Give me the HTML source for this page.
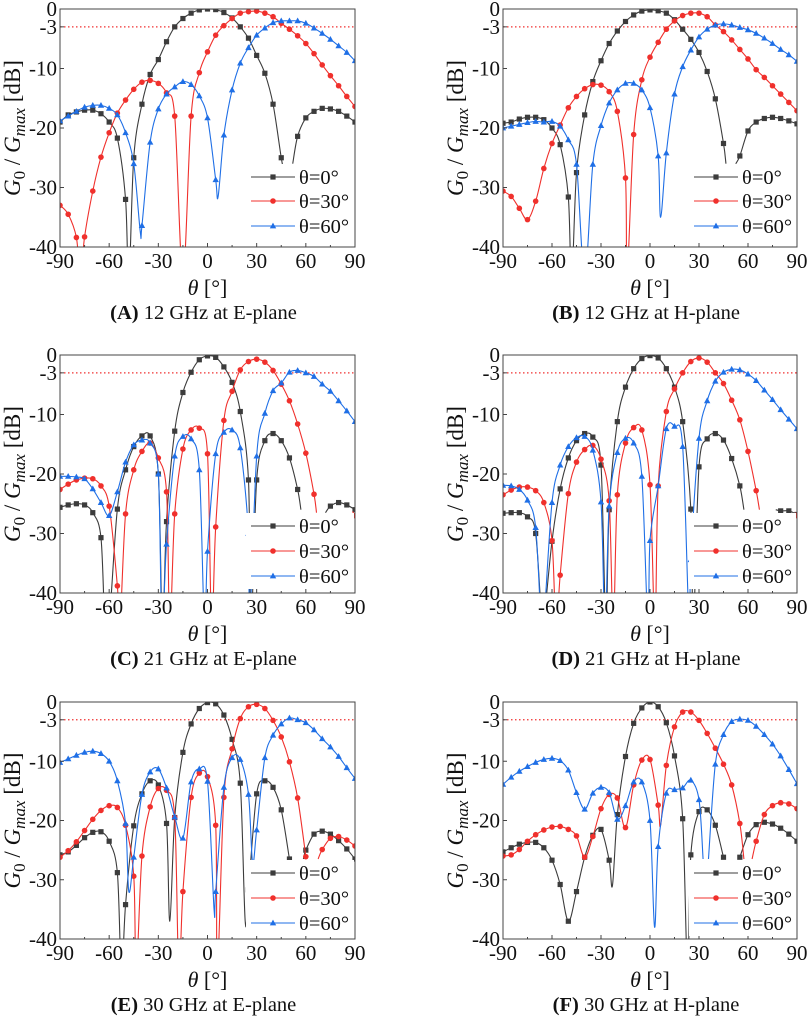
<!DOCTYPE html>
<html><head><meta charset="utf-8">
<style>
html,body{margin:0;padding:0;background:#fff;}
svg{display:block;font-family:"Liberation Serif",serif;}
</style></head>
<body>
<svg id="fig" width="809" height="1017" viewBox="0 0 809 1017" xmlns="http://www.w3.org/2000/svg"></svg>
<script>
const xTicks = [-90,-60,-30,0,30,60,90];
const yTicks = [0,-3,-10,-20,-30,-40];
const gridTheta = [-90,-85,-80,-75,-70,-65,-60,-55,-50,-45,-40,-35,-30,-25,-20,-15,-10,-5,0,5,10,15,20,25,30,35,40,45,50,55,60,65,70,75,80,85,90];
const seriesNames = ["θ=0°","θ=30°","θ=60°"];
const captions = ["12 GHz at E-plane","12 GHz at H-plane","21 GHz at E-plane","21 GHz at H-plane","30 GHz at E-plane","30 GHz at H-plane"];
const panelLetters = ["A","B","C","D","E","F"];

const aBlack = [-19,-17.8,-17.3,-17,-17,-17.6,-19,-21.7,-32,-25,-16,-11,-8.5,-5.5,-3,-1.6,-0.7,-0.15,0,-0.1,-0.6,-1.5,-3,-4.9,-7.8,-10.8,-16,-25,null,-21.4,-18.3,-17.2,-16.7,-16.8,-17.2,-18,-19];
const aBlackExtra = [[-48,-46],[46.5,-27],[52,-26]];
const aRed = [-33,-34.5,-38.4,-38.3,-30.6,-24.9,-20.8,-17.5,-15.3,-13.5,-12.3,-12,-12.5,-14.1,-18,-45,-18,-10.7,-7.2,-4.4,-2.8,-1.6,-0.7,-0.45,-0.35,-0.7,-1.3,-2.4,-3.4,-4.5,-5.8,-7.5,-9.4,-11.2,-12.9,-14.7,-16.4];
const aRedExtra = [[-77.5,-45]];
const aBlue = [-18.8,-18,-17.2,-16.5,-16.2,-16.2,-16.7,-17.8,-20.8,-26,-36.4,-22.4,-16.8,-14.3,-13.1,-12.2,-12.7,-14.6,-18.3,-28.7,-21.2,-13.6,-9.1,-6.5,-4.4,-3.2,-2.3,-2,-2,-2,-2.4,-3.2,-4.1,-5.1,-6.2,-7.3,-8.7];
const aBlueExtra = [[-41,-37.5],[6.5,-31.5]];

const bBlack = [-19.2,-19,-18.5,-18.2,-18.2,-18.6,-20,-22.8,-31.6,-27.5,-17.8,-12.2,-8.7,-5.8,-3.7,-2.1,-1,-0.35,-0.15,-0.3,-0.7,-1.8,-3.4,-5.1,-7.3,-10.5,-15.1,-22.6,null,-24.7,-20.5,-19,-18.4,-18.2,-18.4,-18.8,-19.3];
const bBlackExtra = [[-48,-46],[46.5,-26],[52.5,-26]];
const bRed = [-30.6,-31.5,-33.5,-35.4,-32.3,-26.8,-22.6,-19.5,-16.6,-14.7,-13.4,-12.7,-12.8,-13.9,-17.2,-28.4,-21.1,-11.9,-8.1,-5.6,-3.4,-2,-1.1,-0.7,-0.7,-1.3,-2.7,-3.8,-5.2,-6.8,-8.4,-10.2,-11.5,-12.9,-14.3,-15.7,-17.1];
const bRedExtra = [[-14,-45]];
const bBlue = [-20,-19.7,-19.4,-19.1,-18.9,-19,-18.9,-19.7,-22,-26.1,-45,-26.1,-19.6,-15.8,-13.6,-12.5,-12.5,-13.6,-16.6,-24.7,-24.2,-14.3,-9.7,-6.9,-4.7,-3.4,-2.7,-2.5,-2.7,-3.1,-3.5,-4.1,-4.9,-5.8,-6.8,-7.7,-8.8];
const bBlueExtra = [[6.5,-35]];

const cBlack = [-25.6,-25.2,-25,-25.2,-26.5,-30.7,-45,-25.9,-19.3,-15.4,-13.6,-13.6,-20,-28,-12.8,-6.3,-2.9,-0.8,-0.15,-0.4,-2,-4.6,-9.5,-21,-21,-14.4,-13.2,-14.4,-17.3,-22.6,null,null,null,-25.4,-24.8,-25.2,-26];
const cBlackExtra = [[-62.5,-46],[-27.5,-46],[26.5,-46],[57,-26],[72,-26.5]];
const cRed = [-22.6,-21.7,-21,-20.7,-20.8,-22,-25.4,-38.8,-26.7,-19.3,-16.2,-14.8,-17.3,-23,-26.7,-15.8,-12.6,-12.3,-16.6,-28.9,-11,-6.1,-2.5,-1.1,-0.7,-1.2,-2.6,-4.9,-7.7,-11.6,-16.5,-23.4,null,null,null,null,-27];
const cRedExtra = [[-53.5,-46],[-23,-46],[2.5,-46],[66.5,-26.5],[88.5,-26.3]];
const cBlue = [-20.4,-20.4,-20.5,-20.8,-22.5,-24.8,-27,-23,-18,-15.1,-14.3,-14.8,-20,-31.8,-17,-13.7,-14.1,-19.3,-33,-16.6,-13,-12.6,-15.6,-30,-17,-9.8,-6,-4.7,-2.9,-2.6,-3,-3.6,-4.9,-6.1,-7.7,-9.4,-11.2];
const cBlueExtra = [[-27.8,-46],[-1.8,-46],[25.6,-46]];

const dBlack = [-26.6,-26.5,-26.5,-27.2,-30,-45,-31.3,-22.5,-17.3,-14.4,-13.2,-13.8,-18.5,-26,-11.2,-5.4,-2.3,-0.6,-0.1,-0.5,-2.3,-5.4,-11.2,-25.9,-18.8,-14.1,-13.2,-14.3,-17.4,-22,null,null,null,null,-26.2,-26.2,-26.8];
const dBlackExtra = [[-66,-46],[-27,-46],[26.5,-46],[57.5,-26],[77,-26]];
const dRed = [-23.5,-22.7,-22.2,-22.2,-22.8,-24.8,-31.2,-37,-23.3,-18,-15.9,-15.2,-17.5,-24.5,-23.5,-14.8,-12.2,-12.6,-21.8,-22,-9.5,-5.7,-3,-1.1,-0.5,-1.2,-3,-4.8,-7.6,-10.9,-16.2,-22.8,null,null,null,null,-27];
const dRedExtra = [[-57.5,-46],[-22.5,-46],[3,-46],[67,-26],[89,-26.5]];
const dBlue = [-21.9,-22,-22.6,-24.4,-29,-45,-24.8,-18.5,-15.4,-13.9,-13.7,-16,-24.7,-25.4,-16.4,-14,-14.8,-20.4,-31.2,-22,-12.4,-12,-15.4,-34.4,-14,-7.7,-4.4,-2.9,-2.4,-2.5,-3.2,-4.3,-5.9,-7.5,-9.2,-10.8,-12.4];
const dBlueExtra = [[-66.5,-46],[-27.5,-46],[-1.2,-46],[24,-46]];

const eBlack = [-25.8,-25.3,-24.2,-22.9,-22,-21.9,-23.5,-28.8,-34.2,-20.9,-15.5,-13.3,-14,-20.5,-19.5,-8.5,-3.7,-1.1,-0.1,-0.3,-2.2,-6.3,-13.7,-31.7,-15.5,-13.3,-14.4,-18.2,-26.5,null,-25,-22.3,-21.8,-22.3,-23.4,-24.8,-26.5];
const eBlackExtra = [[-52.5,-46],[-23,-37],[23,-37],[58.5,-26.5]];
const eRed = [-26.2,-25.1,-23.6,-21.7,-19.8,-18.3,-17.5,-17.8,-20.8,-29.4,-26,-17.7,-14.6,-14.9,-19.5,-32,-16.1,-12,-12.6,-20.8,-16.1,-7.9,-2.8,-0.8,-0.4,-1.1,-3.1,-5.9,-10.1,-16.2,-26.1,null,-24.9,-23,-22.7,-23.3,-24.3];
const eRedExtra = [[-43.5,-46],[-17.5,-46],[6,-46],[67.5,-26.5]];
const eBlue = [-10.2,-9.6,-9,-8.5,-8.3,-8.7,-10,-13.3,-20.5,-26.2,-15.6,-11.8,-11.3,-14.5,-19.4,-23,-13.5,-11.3,-13.4,-32,-14.4,-9.4,-9.7,-15.6,-21.6,-9.4,-5.6,-3.7,-2.7,-3,-3.5,-4.7,-6.2,-7.6,-9.2,-11.1,-12.9];
const eBlueExtra = [[-48,-32],[4,-35],[27.5,-27]];

const fBlack = [-25.3,-24.6,-24,-23.7,-23.7,-24.6,-26.7,-30.8,-37,-32,-26.2,-22.5,-21.5,-26.7,-19,-9.2,-3.6,-1,0,-0.8,-3.5,-9.1,-19.7,-25.8,-18.5,-18.2,-20.8,-26.2,null,-26.2,-22.4,-20.7,-20.3,-20.6,-21.3,-22.3,-23.5];
const fBlackExtra = [[-23,-31],[23,-46]];
const fRed = [-26,-25.8,-24.9,-23.5,-22.4,-21.6,-21.1,-21,-21.5,-22.6,-26.2,-22.7,-18,-15.6,-16.2,-21.2,-14,-9.8,-9.7,-17.4,-10.7,-4.2,-1.7,-1.7,-3.1,-5.3,-7.8,-10.5,-14,-20.5,null,-23.5,-19,-17.5,-17,-17.2,-18];
const fRedExtra = [[6.5,-20.8],[57.5,-26.5],[62.5,-26.5]];
const fBlue = [-13.9,-12.7,-11.7,-10.9,-10.2,-9.7,-9.5,-9.9,-11.5,-15.3,-18.1,-15.4,-14.4,-15.3,-19.8,-17.5,-13.5,-13.5,-20,-24.4,-15.4,-14.8,-14.5,-13.2,-16.5,null,-10.5,-5.5,-3.3,-2.9,-3.1,-4.1,-5.5,-7.1,-9.1,-11.4,-13.8];
const fBlueExtra = [[2.8,-38],[32.5,-26.5],[35.8,-26.5]];

const panelData = [
  [[aBlack,aBlackExtra],[aRed,aRedExtra],[aBlue,aBlueExtra]],
  [[bBlack,bBlackExtra],[bRed,bRedExtra],[bBlue,bBlueExtra]],
  [[cBlack,cBlackExtra],[cRed,cRedExtra],[cBlue,cBlueExtra]],
  [[dBlack,dBlackExtra],[dRed,dRedExtra],[dBlue,dBlueExtra]],
  [[eBlack,eBlackExtra],[eRed,eRedExtra],[eBlue,eBlueExtra]],
  [[fBlack,fBlackExtra],[fRed,fRedExtra],[fBlue,fBlueExtra]]
];

const colors = ["#3c3c3c","#f0302c","#1f6fe6"];
const NS = "http://www.w3.org/2000/svg";
const svg = document.getElementById("fig");
function mk(tag, attrs, parent){
  const e = document.createElementNS(NS, tag);
  for (const k in attrs) e.setAttribute(k, attrs[k]);
  (parent||svg).appendChild(e);
  return e;
}
const boxes = [
  {x0:60,x1:355,y0:9,y1:247},{x0:503,x1:797,y0:9,y1:247},
  {x0:60,x1:355,y0:355,y1:593},{x0:503,x1:797,y0:355,y1:593},
  {x0:60,x1:355,y0:702,y1:939},{x0:503,x1:797,y0:702,y1:939}
];

function marker(g, k, x, y, nm){
  let m;
  if (k===0) m = mk("rect",{x:x-2.6,y:y-2.6,width:5.2,height:5.2,fill:colors[0]},g);
  else if (k===1) m = mk("circle",{cx:x,cy:y,r:2.8,fill:colors[1]},g);
  else m = mk("polygon",{points:`${x},${y-3.4} ${x-3.2},${y+2.4} ${x+3.2},${y+2.4}`,fill:colors[2]},g);
  
  
  return m;
}

function crPath(pts){
  if (pts.length<2) return "";
  let d = `M${pts[0][0].toFixed(2)},${pts[0][1].toFixed(2)}`;
  for (let i=0;i<pts.length-1;i++){
    const p0 = pts[i-1]||pts[i], p1=pts[i], p2=pts[i+1], p3=pts[i+2]||pts[i+1];
    const c1x = p1[0]+(p2[0]-p0[0])/6, c1y = p1[1]+(p2[1]-p0[1])/6;
    const c2x = p2[0]-(p3[0]-p1[0])/6, c2y = p2[1]-(p3[1]-p1[1])/6;
    d += ` C${c1x.toFixed(2)},${c1y.toFixed(2)} ${c2x.toFixed(2)},${c2y.toFixed(2)} ${p2[0].toFixed(2)},${p2[1].toFixed(2)}`;
  }
  return d;
}

boxes.forEach((b, pi) => {
  const g = mk("g",{});
  
  
  const sx = v => b.x0 + (v+90)/180*(b.x1-b.x0);
  const sy = v => b.y0 + (0-v)/40*(b.y1-b.y0);
  const cid = "clip"+pi;
  const cp = mk("clipPath",{id:cid},g);
  mk("rect",{x:b.x0,y:b.y0,width:b.x1-b.x0,height:b.y1-b.y0},cp);

  const ref = mk("line",{x1:b.x0,x2:b.x1,y1:sy(-3),y2:sy(-3),stroke:"#f03030","stroke-width":1.2,"stroke-dasharray":"1.5,2.5"},g);
  
  

  panelData[pi].forEach((sd, k) => {
    const vals = sd[0], extra = sd[1];
    const sg = mk("g",{"clip-path":`url(#${cid})`},g);
    
    
    let pts = [];
    gridTheta.forEach((t,i)=>pts.push([t, vals[i], true]));
    extra.forEach(e=>pts.push([e[0], e[1], false]));
    pts.sort((a,b)=>a[0]-b[0]);
    let segs=[], cur=[];
    pts.forEach(p=>{
      if (p[1]===null){ if(cur.length) segs.push(cur); cur=[]; }
      else cur.push([sx(p[0]), sy(p[1])]);
    });
    if (cur.length) segs.push(cur);
    segs.forEach(s=>{
      const pth = mk("path",{d:crPath(s),fill:"none",stroke:colors[k],"stroke-width":1.1},sg);
      
      
    });
    gridTheta.forEach((t,i)=>{
      const v = vals[i];
      if (v===null || v < -40) return;
      marker(sg, k, sx(t), sy(v), 'data-point');
    });
  });

  const fr = mk("rect",{x:b.x0,y:b.y0,width:b.x1-b.x0,height:b.y1-b.y0,fill:"none",stroke:"#444","stroke-width":1},g);
  
  

  xTicks.forEach(t=>{
    const x = sx(t);
    mk("line",{x1:x,x2:x,y1:b.y1,y2:b.y1-4,stroke:"#444"},g);
    const tx = mk("text",{x:x,y:b.y1+21,"font-size":21,"text-anchor":"middle",fill:"#111"},g);
    tx.textContent = String(t);
    
    
  });
  xTicks.slice(0,-1).forEach(t=>{
    const x = sx(t+15);
    mk("line",{x1:x,x2:x,y1:b.y1,y2:b.y1-2,stroke:"#444"},g);
  });
  yTicks.forEach(t=>{
    const y = sy(t);
    mk("line",{x1:b.x0,x2:b.x0+4,y1:y,y2:y,stroke:"#444"},g);
    const ty = mk("text",{x:b.x0-3,y:y+7,"font-size":21,"text-anchor":"end",fill:"#111"},g);
    ty.textContent = String(t);
    
    
  });

  const xt = mk("text",{x:(b.x0+b.x1)/2,y:b.y1+48,"font-size":22,"text-anchor":"middle",fill:"#111"},g);
  
  
  const th = mk("tspan",{"font-style":"italic"},xt); th.textContent="θ";
  const th2 = mk("tspan",{},xt); th2.textContent=" [°]";

  const ycx = b.x0-40, ycy = (b.y0+b.y1)/2;
  const yt = mk("text",{x:ycx,y:ycy,"font-size":23,"text-anchor":"middle",fill:"#111",transform:`rotate(-90 ${ycx} ${ycy})`},g);
  
  
  const parts = [["G","italic",0],["0","normal",1],[" / ","normal",0],["G","italic",0],["max","italic",1],[" [dB]","normal",0]];
  parts.forEach(p=>{
    const s = mk("tspan",{"font-style":p[1]},yt);
    if (p[2]) { s.setAttribute("font-size","17"); s.setAttribute("baseline-shift","-5"); }
    s.textContent = p[0];
  });

  const cap = mk("text",{x:(b.x0+b.x1)/2-4,y:b.y1+72,"font-size":20.5,"text-anchor":"middle",fill:"#111"},g);
  
  
  const bl = mk("tspan",{"font-weight":"bold"},cap); bl.textContent = "("+panelLetters[pi]+")";
  const ct = mk("tspan",{},cap); ct.textContent = " "+captions[pi];

  const lg = mk("g",{},g);
  
  
  const rowOff = pi<2 ? [168,192,217] : [171,196,221];
  mk("rect",{x:b.x0+186,y:b.y0+rowOff[0]-13,width:b.x1-b.x0-187,height:rowOff[2]-rowOff[0]+26,fill:"#fff"},lg);
  seriesNames.forEach((nm,k)=>{
    const ly = b.y0+rowOff[k];
    const ent = mk("g",{},lg);
    
    
    mk("line",{x1:b.x0+191,x2:b.x0+235,y1:ly,y2:ly,stroke:colors[k],"stroke-width":1.1},ent);
    marker(ent,k,b.x0+213,ly,'legend-marker');
    const t = mk("text",{x:b.x0+239,y:ly+7,"font-size":20.5,fill:"#111"},ent);
    t.textContent = nm;
  });
});
</script>
</body></html>
